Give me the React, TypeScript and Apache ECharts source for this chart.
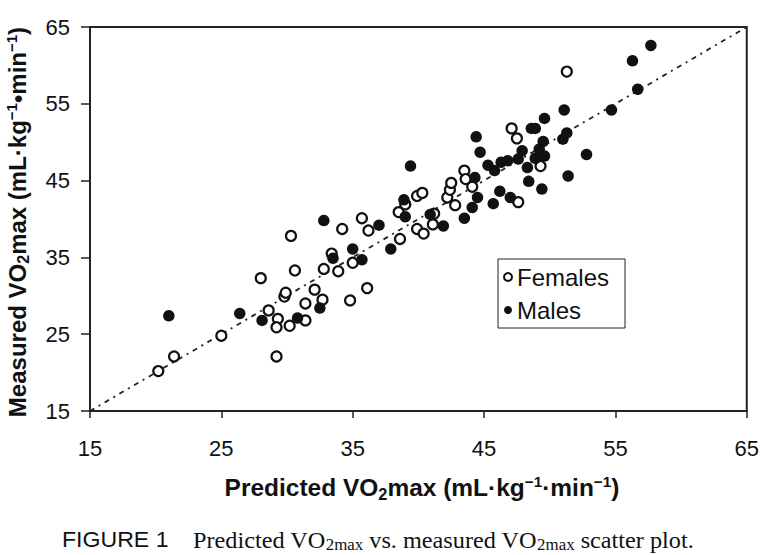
import React, { useEffect, useRef } from "react";
import * as echarts from "echarts";

// [predicted, measured]
const femalePoints: number[][] = [
  [20.2, 20.2], [21.4, 22.1], [25.0, 24.8], [28.0, 32.3], [28.6, 28.1], [29.3, 27.0],
  [29.2, 25.9], [30.2, 26.1], [29.2, 22.1], [29.8, 29.9], [29.9, 30.4], [30.3, 37.8],
  [30.6, 33.3], [31.4, 29.0], [31.4, 26.8], [32.1, 30.8], [32.7, 29.5], [32.8, 33.5],
  [33.4, 35.5], [33.9, 33.2], [34.2, 38.7], [34.8, 29.4], [35.0, 34.3], [35.7, 40.1],
  [36.1, 31.0], [36.2, 38.5], [38.5, 40.9], [38.6, 37.4], [39.0, 41.9], [39.9, 43.0],
  [39.9, 38.7], [40.3, 43.4], [40.4, 38.1], [41.1, 39.3], [41.2, 40.7], [42.2, 42.8],
  [42.4, 43.8], [42.5, 44.7], [42.8, 41.8], [43.5, 46.3], [43.6, 45.2], [44.1, 44.2],
  [47.1, 51.8], [47.5, 50.5], [47.6, 42.2], [49.3, 46.9], [51.3, 59.2],
];

const malePoints: number[][] = [
  [21.0, 27.4], [26.4, 27.7], [28.1, 26.8], [30.8, 27.1], [32.5, 28.4], [32.8, 39.8],
  [33.5, 34.9], [35.0, 36.1], [35.7, 34.7], [37.0, 39.2], [37.9, 36.1], [38.9, 42.5],
  [39.0, 40.3], [39.4, 46.9], [40.9, 40.6], [41.9, 39.1], [43.5, 40.1], [44.1, 41.5],
  [44.3, 45.4], [44.4, 50.7], [44.5, 42.8], [44.7, 48.7], [45.3, 47.0], [45.7, 42.0],
  [45.8, 46.3], [46.2, 43.6], [46.3, 47.4], [46.8, 47.6], [47.0, 42.8], [47.6, 47.8],
  [47.9, 48.9], [48.3, 46.7], [48.4, 44.9], [48.6, 51.8], [48.9, 51.8], [48.9, 47.9],
  [49.2, 49.1], [49.4, 43.9], [49.5, 50.1], [49.6, 53.1], [49.6, 48.2], [51.0, 50.4],
  [51.1, 54.2], [51.3, 51.2], [51.4, 45.6], [52.8, 48.4], [54.7, 54.2], [56.3, 60.6],
  [56.7, 56.9], [57.7, 62.6],
];

const identityLine: number[][] = [[15, 15], [65, 65]];

const axisMin = 15;
const axisMax = 65;
const axisStep = 10;

const SANS = "'Liberation Sans', Arial, Helvetica, sans-serif";
const SERIF = "'Liberation Serif', 'Times New Roman', serif";

const titleRich = {
  b: { fontSize: 24, fontWeight: "bold", fontFamily: SANS, fill: "#111" },
  s: { fontSize: 16, fontWeight: "bold", fontFamily: SANS, fill: "#111", padding: [12, 0, 0, 0] },
  p: { fontSize: 15, fontWeight: "bold", fontFamily: SANS, fill: "#111", padding: [0, 0, 12, 0] },
};

export default function App() {
  const ref = useRef<HTMLDivElement>(null);

  useEffect(() => {
    if (!ref.current) return;
    const chart = echarts.init(ref.current, undefined, { renderer: "svg" });
    chart.setOption({
      animation: false,
      backgroundColor: "#ffffff",
      grid: {
        left: 90,
        right: 9,
        top: 27,
        bottom: 144,
        show: true,
        borderColor: "#222",
        borderWidth: 2,
        backgroundColor: "transparent",
      },
      xAxis: {
        type: "value",
        min: axisMin,
        max: axisMax,
        interval: axisStep,
        axisLine: { show: true, onZero: false, lineStyle: { color: "#222", width: 2 } },
        axisTick: { show: true, inside: false, length: 7, lineStyle: { color: "#222", width: 1.5 } },
        axisLabel: { color: "#111", fontSize: 22, fontFamily: SANS, margin: 26 },
        splitLine: { show: false },
      },
      yAxis: {
        type: "value",
        min: axisMin,
        max: axisMax,
        interval: axisStep,
        axisLine: { show: true, onZero: false, lineStyle: { color: "#222", width: 2 } },
        axisTick: { show: true, inside: false, length: 9, lineStyle: { color: "#222", width: 1.5 } },
        axisLabel: { color: "#111", fontSize: 22, fontFamily: SANS, margin: 20 },
        splitLine: { show: false },
      },
      legend: {
        orient: "vertical",
        left: 498,
        top: 259,
        padding: [6, 16, 6, 5],
        itemGap: 9,
        itemWidth: 8,
        itemHeight: 8,
        borderColor: "#222",
        borderWidth: 1,
        backgroundColor: "#fff",
        textStyle: { fontSize: 24, fontFamily: SANS, color: "#111", lineHeight: 24 },
        data: [
          { name: "Females", icon: "circle" },
          { name: "Males", icon: "circle" },
        ],
      },
      series: [
        {
          type: "line",
          data: identityLine,
          symbol: "none",
          silent: true,
          lineStyle: { color: "#222", width: 1.8, type: [5, 5, 2, 5] },
          z: 1,
        },
        {
          name: "Females",
          type: "scatter",
          data: femalePoints,
          symbol: "circle",
          symbolSize: 10,
          itemStyle: { color: "#fff", borderColor: "#111", borderWidth: 2.2, opacity: 1 },
          z: 3,
        },
        {
          name: "Males",
          type: "scatter",
          data: malePoints,
          symbol: "circle",
          symbolSize: 11.5,
          itemStyle: { color: "#111", borderColor: "#111", borderWidth: 0, opacity: 1 },
          z: 3,
        },
      ],
      graphic: [
        {
          type: "text",
          x: 17,
          y: 222,
          rotation: Math.PI / 2,
          style: {
            text: "{b|Measured VO}{s|2}{b|max (mL·kg}{p|−1}{b|•min}{p|−1}{b|)}",
            rich: titleRich,
            align: "center",
            verticalAlign: "middle",
          },
        },
        {
          type: "text",
          x: 422,
          y: 488,
          scaleX: 1.02,
          style: {
            text: "{b|Predicted VO}{s|2}{b|max (mL·kg}{p|−1}{b|·min}{p|−1}{b|)}",
            rich: titleRich,
            align: "center",
            verticalAlign: "middle",
          },
        },
        {
          type: "text",
          x: 62,
          y: 540,
          scaleX: 1.05,
          style: {
            text: "FIGURE 1",
            fontSize: 22,
            fontFamily: SANS,
            fill: "#111",
            align: "left",
            verticalAlign: "middle",
          },
        },
        {
          type: "text",
          x: 193,
          y: 540,
          scaleX: 1.055,
          style: {
            text: "{t|Predicted VO}{u|2max}{t| vs. measured VO}{u|2max}{t| scatter plot.}",
            align: "left",
            verticalAlign: "middle",
            rich: {
              t: { fontSize: 23, fontFamily: SERIF, fill: "#111" },
              u: { fontSize: 16, fontFamily: SERIF, fill: "#111", padding: [10, 0, 0, 0] },
            },
          },
        },
      ],
    });
    return () => chart.dispose();
  }, []);

  return (
    <div
      ref={ref}
      style={{ position: "fixed", left: 0, top: 0, width: 762, height: 555, background: "#fff" }}
    />
  );
}
